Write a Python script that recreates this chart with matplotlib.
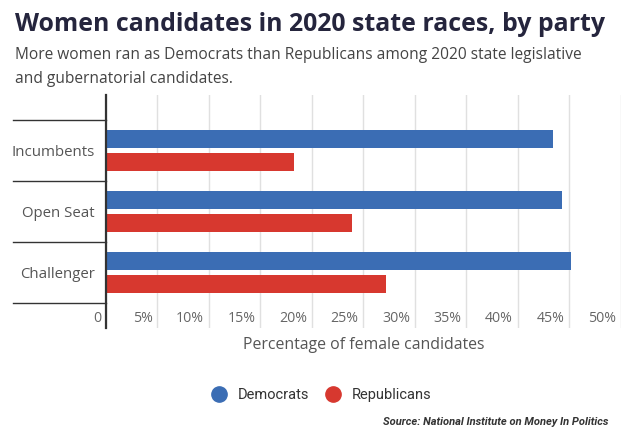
import matplotlib
matplotlib.use("Agg")
import matplotlib.pyplot as plt
from matplotlib.lines import Line2D
import matplotlib.transforms as mtransforms

categories = ["Incumbents", "Open Seat", "Challenger"]
democrats = [43.4, 44.3, 45.1]
republicans = [18.3, 23.9, 27.2]
series_names = ["Democrats", "Republicans"]
xticks = [0, 5, 10, 15, 20, 25, 30, 35, 40, 45, 50]
xtick_labels = ["0", "5%", "10%", "15%", "20%", "25%", "30%", "35%", "40%", "45%", "50%"]

BLUE = "#3b6db4"
RED = "#d7382f"
W, H = 634, 444

fig = plt.figure(figsize=(W / 100, H / 100), dpi=100)
fig.patch.set_facecolor("white")

left, right, top, bottom = 106, 621, 95, 328
ax = fig.add_axes([left / W, 1 - bottom / H, (right - left) / W, (bottom - top) / H])

ypos = list(range(len(categories)))
off, bh = 0.19, 0.295
ax.barh([y - off for y in ypos], democrats, height=bh, color=BLUE, zorder=3)
ax.barh([y + off for y in ypos], republicans, height=bh, color=RED, zorder=3)

marg = 25 / 61
ax.set_ylim(len(categories) - 0.5 + marg, -0.5 - marg)
ax.set_xlim(0, 50)

for s in ["top", "right", "bottom"]:
    ax.spines[s].set_visible(False)
ax.spines["left"].set_color("#333333")
ax.spines["left"].set_linewidth(1.6)
ax.spines["left"].set_zorder(4)

ax.set_xticks(xticks)
ax.set_xticklabels(xtick_labels, fontfamily="Open Sans", fontsize=10.2, color="#666666")
ax.grid(axis="x", color="#e0e0e0", linewidth=1, zorder=0)
ax.tick_params(axis="x", length=0, pad=-12)
shift = mtransforms.ScaledTranslation(-5 / 100, 0, fig.dpi_scale_trans)
for lab in ax.get_xticklabels():
    lab.set_horizontalalignment("right")
    lab.set_transform(lab.get_transform() + shift)

ax.set_yticks(ypos)
ax.set_yticklabels(categories, fontfamily="Open Sans", fontsize=10.8, color="#555555")
ax.tick_params(axis="y", length=0, pad=8)

# category separators to the left of the axis
trans = mtransforms.blended_transform_factory(fig.transFigure, ax.transData)
for b in [-0.5 + i for i in range(len(categories) + 1)]:
    ax.add_line(Line2D([13 / W, left / W], [b, b], transform=trans, color="#333333",
                       linewidth=1, clip_on=False))

fig.text((left + right) / 2 / W, 1 - 345 / H, "Percentage of female candidates",
         ha="center", va="center", fontfamily="Open Sans", fontsize=11.4, color="#555555")

fig.text(15 / W, 1 - 24.5 / H, "Women candidates in 2020 state races, by party",
         ha="left", va="center", fontfamily="Open Sans", fontweight="bold",
         fontsize=17.9, color="#25253d")
fig.text(15 / W, 1 - 67 / H,
         "More women ran as Democrats than Republicans among 2020 state legislative\nand gubernatorial candidates.",
         ha="left", va="center", fontfamily="Open Sans", fontsize=11.2, color="#444444",
         linespacing=1.6)

handles = [Line2D([], [], marker="o", linestyle="", markersize=11, color=BLUE),
           Line2D([], [], marker="o", linestyle="", markersize=11, color=RED)]
fig.legend(handles, series_names, loc="center", bbox_to_anchor=(318 / W, 1 - 395 / H),
           ncol=2, frameon=False, handletextpad=0.3, columnspacing=0.6,
           prop={"family": "Roboto", "size": 10.5}, labelcolor="#333333")

fig.text(608 / W, 1 - 422 / H, "Source: National Institute on Money In Politics",
         ha="right", va="center", fontfamily="Roboto", fontweight="bold", fontstyle="italic",
         fontsize=8.0, color="#333333")

fig.savefig("out.png", dpi=100, facecolor="white")
